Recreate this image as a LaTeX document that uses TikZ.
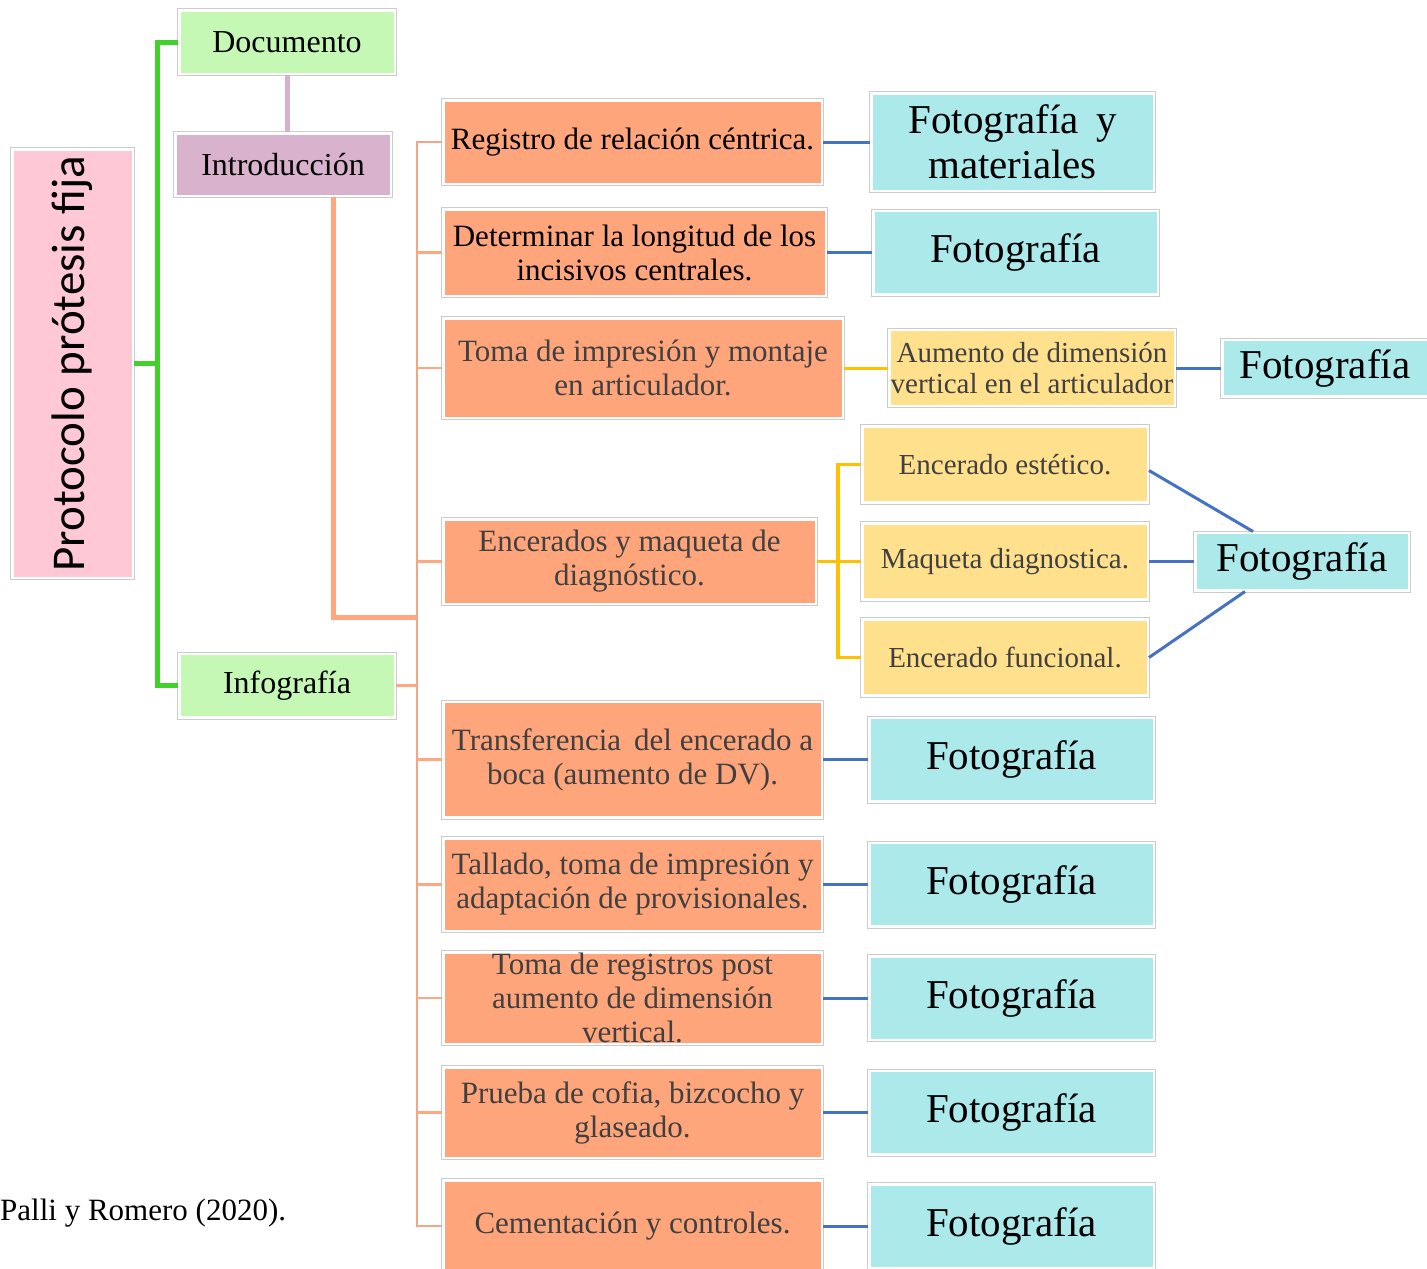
\documentclass[tikz,border=0pt]{standalone}
\usepackage{fontspec}
\setmainfont{Liberation Serif}
\newfontfamily\protofont{Carlito}
\usetikzlibrary{positioning}
\definecolor{rosa}{HTML}{FFC8D6}
\definecolor{verde}{HTML}{C6F8B5}
\definecolor{malva}{HTML}{D9B3CE}
\definecolor{salmon}{HTML}{FFA57B}
\definecolor{celeste}{HTML}{ABE9EB}
\definecolor{amarillo}{HTML}{FFE08C}
\definecolor{lverde}{HTML}{40D22A}
\definecolor{lmalva}{HTML}{D7B1CC}
\definecolor{lnaranja}{HTML}{FFA77F}
\definecolor{ltronco}{HTML}{F2A686}
\definecolor{lazul}{HTML}{4472C4}
\definecolor{loro}{HTML}{FFC000}
\definecolor{texgris}{HTML}{404040}
\tikzset{
  caja/.style={preaction={draw=gray!40, line width=4.5pt}, draw=white, line width=2.5pt,
    inner sep=0pt, align=center},
  rosabox/.style={caja, fill=rosa, font=\protofont\fontsize{47}{50}\selectfont},
  verdebox/.style={caja, fill=verde, minimum width=215.5, minimum height=63.5, font=\fontsize{32}{35}\selectfont},
  malvabox/.style={caja, fill=malva, minimum width=215.5, minimum height=62.5, font=\fontsize{32}{35}\selectfont},
  pasobox/.style={caja, fill=salmon, anchor=west, font=\fontsize{31}{34}\selectfont},
  fotobox/.style={caja, fill=celeste, font=\fontsize{41}{45}\selectfont},
  ceraBox/.style={caja, fill=amarillo, minimum width=285.5, minimum height=76, text=texgris, font=\fontsize{29}{31}\selectfont},
  gris/.style={text=texgris},
}
\begin{document}
\begin{tikzpicture}[x=1pt, y=-1pt]
        \useasboundingbox[fill=white] (0,0) rectangle (1427,1269);
        %Raiz y ramas
        \node [rosabox, rotate=90, minimum width=428.5, minimum height=120.5] (proto) at (72.5,363.5) {Protocolo prótesis fija};
        \node [verdebox] (doc) at (287,42) {Documento};
        \node [malvabox] (intro) at (283,164.5) {Introducción};
        \node [verdebox] (info) at (287,685.5) {Infografía};
        %Pasos
        \node [pasobox, minimum width=378.5, minimum height=83.5] (s1) at (442,142) {Registro de relación céntrica.};
        \node [pasobox, minimum width=382.5, minimum height=86.5] (s2) at (442,252.5) {Determinar la longitud de los\\incisivos centrales.};
        \node [pasobox, gris, minimum width=399.5, minimum height=99.5] (s3) at (442,368) {Toma de impresión y montaje\\en articulador.};
        \node [pasobox, gris, minimum width=372.5, minimum height=84.5] (s4) at (442,561.5) {Encerados y maqueta de\\diagnóstico.};
        \node [pasobox, gris, minimum width=378.5, minimum height=115.5] (s5) at (442,759.5) {Transferencia\, del encerado a\\boca (aumento de DV).};
        \node [pasobox, gris, minimum width=378.5, minimum height=92.5] (s6) at (442,884.5) {Tallado, toma de impresión y\\adaptación de provisionales.};
        \node [pasobox, gris, minimum width=378.5, minimum height=91.5] (s7) at (442,998) {Toma de registros post\\aumento de dimensión\\vertical.};
        \node [pasobox, gris, minimum width=378.5, minimum height=90.5] (s8) at (442,1112.5) {Prueba de cofia, bizcocho y\\glaseado.};
        \node [pasobox, gris, minimum width=378.5, minimum height=91.5] (s9) at (442,1226) {Cementación y controles.};
        %Encerados
        \node [ceraBox] (y1) at (1032,368) {Aumento de dimensión\\vertical en el articulador};
        \node [ceraBox] (y2) at (1005,464.5) {Encerado estético.};
        \node [ceraBox] (y3) at (1005,561.5) {Maqueta diagnostica.};
        \node [ceraBox] (y4) at (1005,657.5) {Encerado funcional.};
        %Fotografias
        \node [fotobox, minimum width=282.5, minimum height=97.5] (f1) at (1012.5,142) {Fotografía\, y\\materiales};
        \node [fotobox, minimum width=284.5, minimum height=83.5] (f2) at (1015.5,252.5) {Fotografía};
        \node [fotobox, minimum width=205.5, minimum height=56.5] (f3) at (1325,368) {Fotografía};
        \node [fotobox, minimum width=213.5, minimum height=57.5] (f4) at (1302,561.5) {Fotografía};
        \foreach \i/\yy in {5/759.5,6/884.5,7/998,8/1112.5,9/1226}
          \node [fotobox, minimum width=284.5, minimum height=83.5] (f\i) at (1011.5,\yy) {Fotografía};
        %Fuente
        \node [anchor=west, inner sep=0pt, font=\fontsize{31}{34}\selectfont] (fuente) at (0,1213) {Palli y Romero (2020).};
        %Conectores
        \coordinate (gtronco) at (157,363.5);
        \coordinate (otronco) at (417,617);
        \coordinate (ytronco) at (838,561.5);
        \draw [lverde, line width=5pt] (doc.west) -| (gtronco) |- (info.west);
        \draw [lverde, line width=5pt] (proto.south) -- (gtronco);
        \draw [lmalva, line width=5pt] (doc.south) -- (doc.south |- intro.north);
        \draw [lnaranja, line width=5pt] ([xshift=50]intro.south) |- (otronco);
        \draw [ltronco, line width=2.5pt] (s1.west) -| (otronco) |- (s9.west);
        \foreach \i in {2,...,8}
          \draw [lnaranja, line width=2.5pt] (s\i.west) -- (s\i.west -| otronco);
        \draw [lnaranja, line width=3pt] (info.east) -- (info.east -| otronco);
        \draw [loro, line width=3pt] (s3.east) -- (y1.west);
        \draw [loro, line width=3.5pt] (s4.east) -- (y3.west);
        \draw [loro, line width=3.5pt] (y2.west) -| (ytronco) |- (y4.west);
        \foreach \i in {1,2,5,6,7,8,9}
          \draw [lazul, line width=3pt] (s\i.east) -- (f\i.west);
        \draw [lazul, line width=3pt] (y1.east) -- (f3.west);
        \draw [lazul, line width=3pt] (y3.east) -- (f4.west);
        \draw [lazul, line width=3pt] ([yshift=-6]y2.east) -- ([xshift=-49]f4.north);
        \draw [lazul, line width=3pt] (y4.east) -- ([xshift=-57]f4.south);
\end{tikzpicture}
\end{document}
